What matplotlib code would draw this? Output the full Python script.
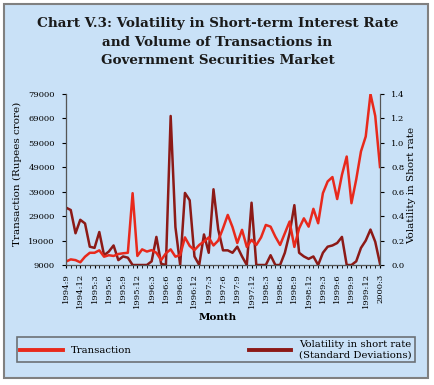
import numpy as np
import matplotlib
matplotlib.use("Agg")
import matplotlib.pyplot as plt
from matplotlib.patches import Rectangle
from matplotlib.lines import Line2D

# monthly data, 1994:9 to 2000:3
start_year, start_month = 1994, 9
n_months = 67

transaction = [10400, 11300, 11000, 10100, 12400, 14000, 14000, 15000, 12400, 13000,
               12700, 13500, 13800, 14000, 38400, 12700, 15400, 14500, 15100, 14000,
               11000, 13800, 15400, 12400, 13100, 20300, 16800, 15100, 17200, 18600,
               20300, 17000, 19000, 24000, 29500, 24500, 18000, 23400, 16400, 19300,
               17200, 20300, 25400, 24700, 20600, 17200, 22000, 26800, 16400, 24000,
               28100, 24700, 32000, 26100, 38400, 43200, 45000, 36000, 45900, 53400,
               34300, 44000, 55500, 61600, 79000, 70000, 49100]

volatility = [0.47, 0.45, 0.26, 0.37, 0.34, 0.15, 0.14, 0.27, 0.08, 0.11,
              0.16, 0.04, 0.07, 0.06, 0.00, 0.00, 0.00, 0.00, 0.03, 0.23,
              0.01, 0.00, 1.22, 0.31, 0.00, 0.59, 0.53, 0.07, 0.00, 0.25,
              0.10, 0.62, 0.29, 0.12, 0.12, 0.10, 0.15, 0.07, 0.00, 0.51,
              0.00, 0.00, 0.00, 0.08, 0.00, 0.00, 0.10, 0.26, 0.49, 0.10,
              0.07, 0.05, 0.07, 0.00, 0.10, 0.15, 0.16, 0.18, 0.23, 0.00,
              0.00, 0.03, 0.14, 0.20, 0.29, 0.19, 0.01]

month_labels = []
for i in range(n_months):
    m = start_month - 1 + i
    month_labels.append("%d:%d" % (start_year + m // 12, m % 12 + 1))

title_lines = ["Chart V.3: Volatility in Short-term Interest Rate",
               "and Volume of Transactions in",
               "Government Securities Market"]

bg = "#c9e1f7"
red = "#e8291c"
dark = "#8c1a17"
W, H = 435, 385

plt.rcParams['font.family'] = ['DejaVu Serif']
fig = plt.figure(figsize=(W / 100, H / 100), dpi=100)
fig.patch.set_facecolor("white")
# background panel with border
panel = Rectangle((4 / W, 1 - 378 / H), 424 / W, 374 / H, transform=fig.transFigure,
                  facecolor=bg, edgecolor="#808080", linewidth=1.5, zorder=-10)
fig.patches.append(panel)

for k, line in enumerate(title_lines):
    fig.text(0.5, 1 - (23 + 19 * k) / H, line, ha="center", va="center",
             fontsize=9.7, fontweight="bold", color="#1a1a1a")

ax = fig.add_axes([66 / W, 1 - 265 / H, 314 / W, 171 / H])
x = np.arange(n_months)
ax.plot(x, transaction, color=red, linewidth=1.8, label="Transaction")
ax.set_ylim(9000, 79000)
ax.set_yticks(np.arange(9000, 79001, 10000))
ax.set_yticklabels(["%d" % v for v in np.arange(9000, 79001, 10000)], fontsize=6)
ax.set_xlim(0, n_months - 1)
ax.set_xticks(x[::3])
ax.set_xticklabels(month_labels[::3], rotation=90, fontsize=6)
ax.set_xticks(x, minor=True)
ax.tick_params(axis="x", which="both", length=2, direction="out", pad=4)
ax.tick_params(axis="y", length=3, pad=5)
ax.spines["top"].set_visible(False)
for s in ["left", "bottom", "right"]:
    ax.spines[s].set_color("#555555")

ax2 = ax.twinx()
ax2.plot(x, volatility, color=dark, linewidth=1.8)
ax2.set_ylim(0, 1.4)
ax2.set_yticks(np.arange(0, 1.41, 0.2))
ax2.set_yticklabels(["%.1f" % v for v in np.arange(0, 1.41, 0.2)], fontsize=6)
ax2.tick_params(axis="y", length=3, pad=5)
ax2.spines["top"].set_visible(False)
ax2.spines["right"].set_color("#555555")
ax.set_zorder(ax2.get_zorder() + 1)
ax.patch.set_visible(False)
ax2.patch.set_visible(False)

fig.text(17 / W, 1 - 174 / H, "Transaction (Rupees crore)", rotation=90,
         ha="center", va="center", fontsize=7.5)
fig.text(412 / W, 1 - 185 / H, "Volatility in Short rate", rotation=90,
         ha="center", va="center", fontsize=7.5)
fig.text(0.5, 1 - 318 / H, "Month", ha="center", va="center", fontsize=7.5, fontweight="bold")

handles = [Line2D([], [], color=red, linewidth=2.8),
           Line2D([], [], color=dark, linewidth=2.8)]
leg = fig.legend(handles, ["Transaction", "Volatility in short rate\n(Standard Deviations)"],
                 loc="upper left", bbox_to_anchor=(17 / W, 1 - 365 / H, 398 / W, 28 / H),
                 mode="expand", ncol=2, fontsize=7.3, handlelength=4.2, frameon=True,
                 fancybox=False, borderaxespad=0, borderpad=0.3, labelspacing=0.2)
leg.get_frame().set_facecolor(bg)
leg.get_frame().set_edgecolor("#555555")
leg.get_frame().set_linewidth(1.2)

fig.savefig("out.png", dpi=100, facecolor="white")
